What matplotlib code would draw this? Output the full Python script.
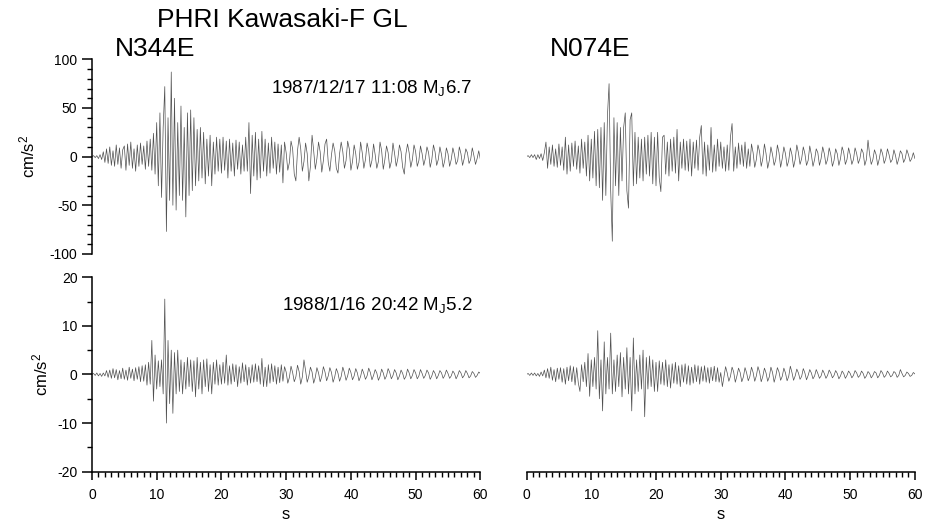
import matplotlib
matplotlib.use("Agg")
import matplotlib.pyplot as plt
from matplotlib.ticker import MultipleLocator
import numpy as np

plt.rcParams['font.family'] = ['Liberation Sans', 'DejaVu Sans']
plt.rcParams['mathtext.default'] = 'regular'
plt.rcParams['axes.unicode_minus'] = False

DT = 0.25

# 1987/12/17 event, N344E component (cm/s2), one row = 5 s
eq87_n344e = [
    0, 1, -1, 1, -2, 2, -3, 5, -6, 8, -7, 10, -9, 6, -10, 12, -8, 9, -12, 7,
    11, -14, 13, -9, 15, -12, 8, -15, 12, -10, 14, -8, 11, -13, 16, -10, 18, -14, 24, -18,
    35, -30, 45, -42, 30, 72, -77, 40, -45, 87, -50, 60, -55, 35, -40, 52, -45, 30, -62, 45,
    -40, 48, -35, 40, -30, 28, -25, 30, -22, 25, -28, 18, -20, 22, -30, 15, -18, 20, -15, 18,
    -17, 20, -14, 16, -22, 18, -15, 14, -20, 17, -13, 15, -18, 12, -15, 20, -15, 35, -38, 22,
    -20, 25, -24, 18, -22, 26, -15, 18, -20, 14, -17, 20, -12, 15, -18, 13, -16, 12, -27, 15,
    4, -14, -6, 16, 8, -18, -25, 6, 20, 8, -15, -5, 14, 3, -25, -10, 22, 6, -13, -2,
    15, 5, -16, -4, 13, 18, -6, -15, 2, 14, 6, -12, -17, 3, 15, 5, -12, -4, 16, 8,
    -14, -5, 12, 3, -13, -6, 15, 4, -12, -3, 14, 6, -11, -4, 13, 2, -12, -5, 15, 6,
    -13, -3, 11, 4, -12, -5, 14, 3, -10, -2, 12, 5, -11, -18, 3, 13, 4, -11, -3, 12,
    5, -10, -4, 11, 3, -9, -2, 10, 4, -11, -3, 12, 5, -9, -3, 10, 2, -11, -4, 9,
    3, -10, -3, 9, 2, -8, -4, 10, 3, -9, -2, 8, 4, -7, -3, 9, 1, -8, -2, 6, -3,
]

# 1987/12/17 event, N074E component
eq87_n074e = [
    0, 1, -1, 2, -1, 2, -3, 2, -2, 3, -4, 4, 15, -12, 10, -8, 12, -10, 8, -11,
    13, -9, 10, -14, 20, -18, 12, -15, 14, -10, 16, -13, 11, -17, 18, -12, 15, -20, 22, -25,
    18, -22, 26, -30, 28, -32, 30, -45, 35, -40, 42, 75, -35, -87, 40, -30, 35, -40, 30, -25,
    30, 45, -35, -53, 38, 45, -30, 25, -28, 20, -22, 18, -25, 20, -18, 22, -20, 25, -28, 20,
    -30, 25, -22, -36, 20, 22, -18, 15, -20, 18, -15, 20, -17, 28, -25, 15, -12, 18, -14, 16,
    -15, 18, -20, 15, -12, 17, -14, 20, 32, -18, 15, -20, 12, -14, 30, -16, 12, -15, 18, -10,
    15, -12, 10, -15, 12, -14, 20, 34, -15, 10, -12, 14, -8, 12, -10, 15, -12, 8, -10, 13,
    4, -11, -3, 12, 5, -10, -2, 13, 3, -12, -4, 10, 2, -9, -3, 12, 4, -11, -2, 10,
    3, -10, -4, 9, 2, -11, -3, 12, 4, -8, -2, 10, 3, -9, -4, 11, 2, -10, -3, 8,
    4, -9, -2, 10, 3, -8, -3, 9, 2, -10, -4, 8, 3, -9, -2, 10, 4, -8, -3, 9,
    2, -8, -3, 9, 3, -7, -2, 8, 4, -9, -3, 17, 2, -8, -3, 7, 2, -9, -2, 8,
    3, -7, -2, 8, 2, -6, -3, 7, 1, -8, -2, 6, 3, -6, -2, 7, 2, -5, -2, 4, -2,
]

# 1988/1/16 event, N344E component
eq88_n344e = [
    0, 0.2, -0.2, 0.3, -0.3, 0.2, -0.4, 0.3, -0.3, 0.8, -0.6, 0.9, -0.8, 1.2, -0.7, 1.0, -1.1, 0.8, -0.9, 1.3,
    -1.0, 0.9, -1.2, 1.5, -0.8, 1.1, -1.3, 1.4, -1.0, 1.6, -1.5, 1.8, -1.4, 2.0, -2.2, 2.5, -2.0, 7.0, -5.5, 4.0,
    -3.0, 2.8, -2.5, 3.0, -4.0, 15.5, -10.0, 7.0, -6.0, 5.0, -8.0, 4.5, -4.0, 5.0, -3.5, 3.0, -4.0, 2.5, -3.0, 3.5,
    -2.5, 3.0, -3.5, 2.8, -4.6, 3.5, -3.0, 2.5, -4.0, 3.0, -2.5, 3.2, -3.5, 2.0, -4.0, 2.5, -2.0, 3.0, -2.2, 2.0,
    -2.0, 2.5, -1.8, 4.0, -2.2, 1.8, -2.0, 2.2, -1.5, 2.0, -2.5, 1.6, -1.8, 2.4, -1.5, 2.0, -2.2, 1.5, -1.8, 2.0,
    -1.6, 2.2, -1.5, 1.8, -2.0, 3.3, -2.5, 1.5, -2.5, 2.0, -1.8, 2.2, -1.5, 1.8, -2.0, 1.5, -1.7, 2.0, -1.4, 1.6,
    0.5, -1.8, -0.6, 1.7, 0.4, -1.5, -0.5, 1.9, 0.6, -2.0, -0.5, 3.0, 0.8, -1.6, -0.4, 1.5, 0.5, -1.8, -0.6, 1.4,
    0.3, -1.5, -0.4, 1.6, 0.5, -1.3, -0.3, 1.4, 0.4, -1.6, -0.5, 1.2, 0.3, -1.4, -0.4, 1.5, 0.4, -1.2, -0.3, 1.3,
    0.4, -1.1, -0.3, 1.2, 0.3, -1.3, -0.4, 1.1, 0.2, -1.0, -0.3, 1.3, 0.4, -1.1, -0.2, 1.0, 0.3, -1.2, -0.4, 1.1,
    0.3, -1.0, -0.3, 1.2, 0.4, -0.9, -0.2, 1.0, 0.3, -1.1, -0.3, 0.9, 0.2, -1.0, -0.4, 1.1, 0.3, -0.9, -0.2, 1.0,
    0.3, -0.9, -0.3, 1.0, 0.2, -0.8, -0.2, 0.9, 0.3, -1.0, -0.3, 0.8, 0.2, -0.9, -0.2, 0.8, 0.3, -0.8, -0.2, 0.9,
    0.2, -0.8, -0.3, 0.7, 0.2, -0.9, -0.2, 0.8, 0.3, -0.7, -0.2, 0.8, 0.2, -0.7, -0.3, 0.6, 0.2, -0.6, -0.2, 0.5, 0.2,
]

# 1988/1/16 event, N074E component
eq88_n074e = [
    0, 0.2, -0.2, 0.3, -0.2, 0.3, -0.3, 0.2, -0.4, 0.5, -0.3, 0.9, -0.7, 1.2, -0.8, 1.5, -1.2, 1.0, -1.5, 1.3,
    -1.0, 1.4, -1.6, 1.2, -2.0, 1.5, -1.3, 1.8, -1.5, 1.6, -2.2, 1.4, -1.8, -3.5, 2.0, -1.5, 2.5, -2.5, 4.3, -4.5,
    3.0, -2.5, 3.5, -3.0, 9.0, -5.0, 3.0, -7.5, 6.7, -4.0, 3.5, -3.0, 8.5, -4.0, 3.0, -3.5, 4.0, -2.5, 4.5, -4.6,
    3.5, -3.0, 5.5, -4.0, 3.5, -7.5, 7.5, -4.0, 3.0, -3.5, 4.0, -3.0, 5.0, -8.7, 3.5, -3.0, 3.8, -2.5, 3.0, -3.5,
    2.5, -3.5, 2.8, -2.0, 2.5, -2.2, 3.0, -2.5, 2.0, -2.8, 2.2, -1.8, 2.5, -2.0, 1.8, -2.5, 2.0, -1.6, 2.2, -2.0,
    1.8, -2.2, 1.5, -1.8, 2.0, -1.5, 1.8, -2.0, 1.6, -1.4, 1.8, -1.6, 1.4, -1.8, 1.5, -1.3, 1.7, -1.5, 1.4, -1.6,
    0.4, -2.5, -0.5, 1.6, 0.3, -1.4, -0.4, 1.5, 0.5, -1.6, -0.3, 1.3, 0.4, -1.5, -0.5, 1.4, 0.3, -1.3, -0.4, 1.5,
    0.4, -1.4, -0.3, 1.6, 0.5, -1.5, -0.4, 1.3, 0.3, -1.4, -0.5, 1.5, 0.4, -1.6, -0.3, 1.4, 0.5, -1.2, -0.4, 1.3,
    0.3, -1.3, -0.4, 1.7, 0.4, -1.2, -0.3, 1.1, 0.3, -1.0, -0.4, 1.2, 0.3, -1.1, -0.2, 1.0, 0.3, -0.9, -0.3, 1.0,
    0.2, -0.8, -0.3, 0.9, 0.2, -0.8, -0.2, 0.9, 0.3, -0.7, -0.2, 0.8, 0.2, -0.9, -0.3, 0.7, 0.2, -0.8, -0.2, 0.7,
    0.2, -0.7, -0.2, 0.8, 0.3, -0.6, -0.2, 0.7, 0.2, -0.8, -0.3, 0.6, 0.2, -0.7, -0.2, 0.6, 0.3, -0.7, -0.2, 0.8,
    0.3, -0.6, -0.2, 0.7, 0.2, -0.5, -0.2, 0.6, 0.3, -0.6, -0.2, 1.0, 0.2, -0.5, -0.2, 0.5, 0.2, -0.4, -0.2, 0.4, 0.1,
]

station = 'PHRI Kawasaki-F GL'
components = ['N344E', 'N074E']
events = ['1987/12/17 11:08 M$_{J}$6.7', '1988/1/16 20:42 M$_{J}$5.2']
y_limits = [100, 20]
y_major = [50, 10]
y_minor = [10, 5]

traces = [[eq87_n344e, eq87_n074e], [eq88_n344e, eq88_n074e]]

fig = plt.figure(figsize=(9.27, 5.30), dpi=100)

col_x = [0.0992, 0.568]
col_w = 0.419
row_y = [0.521, 0.110]
row_h = 0.367
ylabel_pad = [9, 5]

for r in range(2):
    for c in range(2):
        ax = fig.add_axes([col_x[c], row_y[r], col_w, row_h])
        acc = np.array(traces[r][c])
        t = np.arange(len(acc)) * DT
        ax.plot(t, acc, color='#505050', lw=0.5)
        ax.set_xlim(0, 60)
        ax.set_ylim(-y_limits[r], y_limits[r])

        for side in ['top', 'right']:
            ax.spines[side].set_visible(False)
        ax.spines['left'].set_visible(c == 0)
        ax.spines['bottom'].set_visible(r == 1)
        for sp in ax.spines.values():
            sp.set_linewidth(1.1)

        ax.tick_params(which='major', direction='out', width=1.1, length=7, labelsize=10)
        ax.tick_params(which='minor', direction='out', width=1.0, length=3.5)

        if c == 0:
            ax.yaxis.set_major_locator(MultipleLocator(y_major[r]))
            ax.yaxis.set_minor_locator(MultipleLocator(y_minor[r]))
            ax.set_ylabel('cm/s$^2$', fontsize=12, labelpad=ylabel_pad[r])
            ax.text(0.98, 0.855, events[r], transform=ax.transAxes, ha='right',
                    va='center', fontsize=13.5)
        else:
            ax.set_yticks([])

        if r == 1:
            ax.xaxis.set_major_locator(MultipleLocator(10))
            ax.xaxis.set_minor_locator(MultipleLocator(1))
            ax.tick_params(axis='x', which='major', length=6, pad=6)
            ax.set_xlabel('s', fontsize=12, labelpad=3)
        else:
            ax.set_xticks([])
            ax.text(0.06, 1.055, components[c], transform=ax.transAxes, ha='left',
                    va='center', fontsize=19)

fig.text(157 / 927, 1 - 20 / 530, station, ha='left', va='center', fontsize=19)

plt.savefig('out.png', dpi=100)
